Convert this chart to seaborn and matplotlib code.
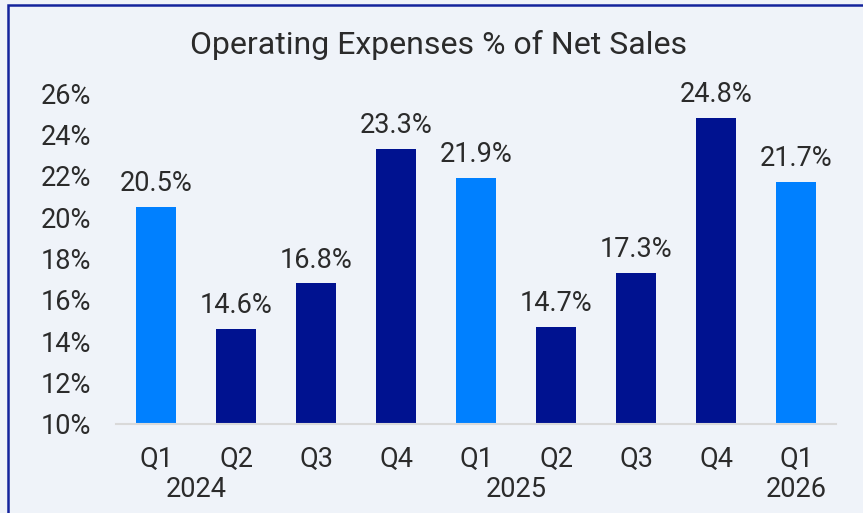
import pandas as pd
import matplotlib.pyplot as plt
import seaborn as sns
from matplotlib.patches import Rectangle
from matplotlib.transforms import blended_transform_factory

# データ
quarters = ['Q1', 'Q2', 'Q3', 'Q4', 'Q1', 'Q2', 'Q3', 'Q4', 'Q1']
years = ['2024', '2024', '2024', '2024', '2025', '2025', '2025', '2025', '2026']
opex_pct = [20.5, 14.6, 16.8, 23.3, 21.9, 14.7, 17.3, 24.8, 21.7]
year_labels = ['2024', '2025', '2026']
year_label_pos = [0.5, 4.5, 8]

df = pd.DataFrame({'quarter': quarters, 'year': years, 'pct': opex_pct})
df['period'] = df['quarter'] + ' ' + df['year']
df['kind'] = ['first' if q == 'Q1' else 'other' for q in quarters]

sns.set_style('white')
plt.rcParams['font.family'] = ['Roboto', 'DejaVu Sans']
text_color = '#2b2b2b'
bg = '#eff3f9'
fs = 19.5

fig = plt.figure(figsize=(8.63, 5.13), dpi=100, facecolor=bg)
ax = fig.add_axes([116 / 863, 1 - 424 / 513, 720 / 863, 331 / 513])
ax.set_facecolor('none')

sns.barplot(data=df, x='period', y='pct', hue='kind', order=df['period'],
            palette={'first': '#0080ff', 'other': '#001290'}, saturation=1,
            dodge=False, width=0.5, legend=False, linewidth=0, ax=ax)

for c in ax.containers:
    ax.bar_label(c, fmt='%.1f%%', padding=7, fontsize=fs, color=text_color)

ax.set_ylim(10, 26)
ax.set_xlim(-0.5, 8.5)
ax.set_yticks(range(10, 27, 2))
ax.set_yticklabels([f'{v}%' for v in range(10, 27, 2)])
ax.set_xticks(range(len(quarters)))
ax.set_xticklabels(quarters)
ax.tick_params(axis='both', length=0, labelsize=fs, labelcolor=text_color)
ax.tick_params(axis='y', pad=18)
ax.tick_params(axis='x', pad=16)
ax.set_xlabel('')
ax.set_ylabel('')

for s in ['top', 'right', 'left']:
    ax.spines[s].set_visible(False)
ax.spines['bottom'].set_color('#d9d9d9')
ax.spines['bottom'].set_linewidth(1.5)

# 年ラベル
trans = blended_transform_factory(ax.transData, ax.transAxes)
for lbl, pos in zip(year_labels, year_label_pos):
    ax.text(pos, -0.198, lbl, transform=trans, ha='center', va='center',
            fontsize=fs, color=text_color)

fig.text(0.508, 0.912, 'Operating Expenses % of Net Sales', ha='center', va='center',
         fontsize=23, color=text_color)

# 枠線
fig.patches.append(Rectangle((8 / 863, -0.2), 1.2, 1.2 + (513 - 5) / 513 - 1,
                             transform=fig.transFigure, fill=False,
                             edgecolor='#14249c', linewidth=1.8))

fig.savefig('out.png', dpi=100, facecolor=bg)
